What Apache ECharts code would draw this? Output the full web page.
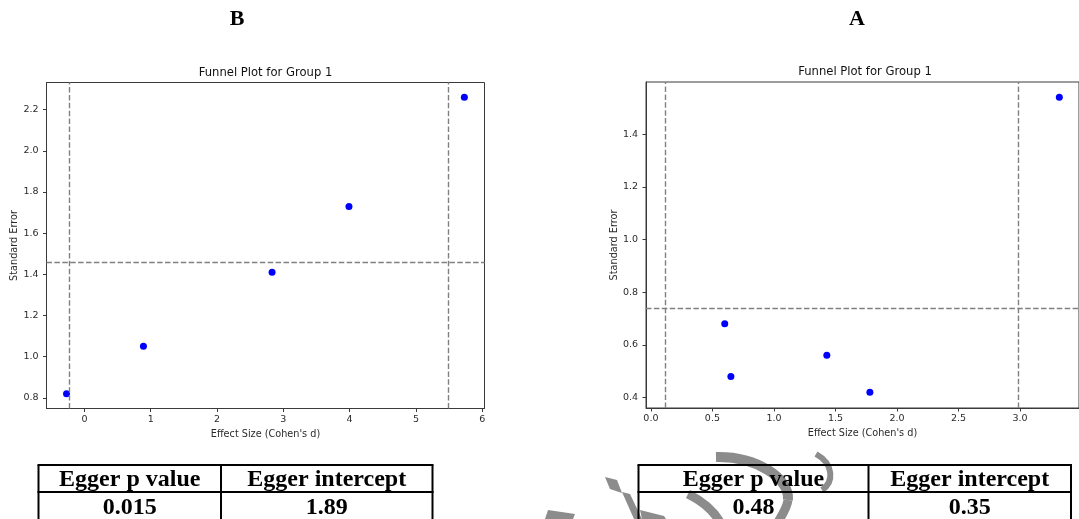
<!DOCTYPE html>
<html><head><meta charset="utf-8">
<script src="https://cdn.jsdelivr.net/npm/echarts@6/dist/echarts.min.js"></script>
<style>html,body{margin:0;padding:0;background:#fff}#c{width:1079px;height:519px}</style>
</head><body><div id="c"></div>
<script>
// ---- data ----
const panelLabels = ['B', 'A'];
const plotTitle = 'Funnel Plot for Group 1';
const xName = "Effect Size (Cohen's d)";
const yName = 'Standard Error';

const effectB = [-0.27, 0.89, 2.83, 3.99, 5.73];
const seB     = [0.82, 1.05, 1.41, 1.73, 2.26];
const refVB   = [-0.23, 5.48];
const refHB   = 1.456;
const xRangeB = [-0.572, 6.034];
const yRangeB = [0.748, 2.332];
const xTicksB = [0, 1, 2, 3, 4, 5, 6];
const yTicksB = [0.8, 1.0, 1.2, 1.4, 1.6, 1.8, 2.0, 2.2];

const effectA = [0.60, 0.65, 1.43, 1.78, 3.32];
const seA     = [0.68, 0.48, 0.56, 0.42, 1.54];
const refVA   = [0.12, 2.99];
const refHA   = 0.739;
const xRangeA = [-0.04, 3.48];
const yRangeA = [0.36, 1.598];
const xTicksA = [0, 0.5, 1, 1.5, 2, 2.5, 3];
const yTicksA = [0.4, 0.6, 0.8, 1.0, 1.2, 1.4];

const tableHeaders = ['Egger p value', 'Egger intercept'];
const eggerB = ['0.015', '1.89'];
const eggerA = ['0.48', '0.35'];

// ---- styling / layout ----
const AX = '#3a3a3a';
const tickFont = { fontFamily: 'DejaVu Sans', fontSize: 9.5, color: '#2a2a2a' };
const nameFont = { fontFamily: 'DejaVu Sans', fontSize: 9.7, color: '#2a2a2a' };
const grids = [
  { left: 46.5, top: 82.5, width: 438, height: 326 },
  { left: 646, top: 82, width: 438, height: 326 }
];

function makeX(gi, range, ticks, dec) {
  return {
    type: 'value', gridIndex: gi, min: range[0], max: range[1],
    name: xName, nameLocation: 'middle', nameGap: 20.5,
    nameTextStyle: Object.assign({}, nameFont),
    axisLine: { show: true, onZero: false, lineStyle: { color: AX, width: 1 } },
    axisTick: { show: true, length: 3.5, customValues: ticks, lineStyle: { color: AX } },
    axisLabel: Object.assign({ customValues: ticks, margin: 6, formatter: v => Number(v).toFixed(dec) }, tickFont),
    splitLine: { show: false }
  };
}
function makeY(gi, range, ticks) {
  return {
    type: 'value', gridIndex: gi, min: range[0], max: range[1],
    name: yName, nameLocation: 'middle', nameGap: 27, nameRotate: 90,
    nameTextStyle: Object.assign({}, nameFont),
    axisLine: { show: true, onZero: false, lineStyle: { color: AX, width: 1 } },
    axisTick: { show: true, length: 3.5, customValues: ticks, lineStyle: { color: AX } },
    axisLabel: Object.assign({ customValues: ticks, margin: 8, formatter: v => Number(v).toFixed(1) }, tickFont),
    splitLine: { show: false }
  };
}
function makeSeries(gi, xs, ys, vlines, hline) {
  return {
    type: 'scatter', xAxisIndex: gi, yAxisIndex: gi,
    data: xs.map((x, i) => [x, ys[i]]),
    symbol: 'circle', symbolSize: 7,
    itemStyle: { color: '#0000ff', opacity: 1 },
    z: 3,
    markLine: {
      silent: true, symbol: 'none', animation: false,
      label: { show: false },
      lineStyle: { color: '#808080', type: [5.5, 2.4], width: 1.4, opacity: 1 },
      data: [{ xAxis: vlines[0] }, { xAxis: vlines[1] }, { yAxis: hline }]
    }
  };
}

function txt(x, y, text, font, color) {
  return { type: 'text', x: x, y: y, silent: true, z: 10,
    style: { text: text, font: font, fill: color || '#000',
      align: 'center', verticalAlign: 'middle', textAlign: 'center', textVerticalAlign: 'middle' } };
}
function ln(x1, y1, x2, y2) {
  return { type: 'line', silent: true, z: 9, shape: { x1, y1, x2, y2 }, style: { stroke: '#000', lineWidth: 2 } };
}
const TF = 'bold 24px "Liberation Serif", "Times New Roman", serif';
function table(left, mid, right, vals) {
  const top = 465, sep = 492, bot = 530;
  const c1 = (left + mid) / 2, c2 = (mid + right) / 2;
  return [
    ln(left - 1, top, right + 1, top), ln(left - 1, sep, right + 1, sep),
    ln(left, top, left, bot), ln(mid, top, mid, bot), ln(right, top, right, bot),
    txt(c1, 480, tableHeaders[0], TF), txt(c2, 480, tableHeaders[1], TF),
    txt(c1, 508, vals[0], TF), txt(c2, 508, vals[1], TF)
  ];
}
// faint watermark logo in the reference, bottom centre-right
const WM = '#8c8c8c';
function band(x1, y1, cx1, cy1, cx2, cy2, x2, y2, w) {
  return { type: 'bezierCurve', silent: true, z: 5,
    shape: { x1, y1, cpx1: cx1, cpy1: cy1, cpx2: cx2, cpy2: cy2, x2, y2 },
    style: { stroke: WM, lineWidth: w, fill: null, lineCap: 'butt' } };
}
function poly(pts) {
  return { type: 'polygon', silent: true, z: 5, shape: { points: pts }, style: { fill: WM } };
}
const watermark = [
  poly([[605, 477], [617, 480], [622, 493], [610, 489]]),
  poly([[548, 510], [575, 514], [573, 519], [545, 519]]),
  poly([[622, 492], [630, 494], [642, 519], [634, 519]]),
  poly([[640, 510], [664, 516], [666, 519], [642, 519]]),
  band(716, 457, 756, 456, 790, 478, 788, 500, 10),
  band(788, 500, 787, 508, 782, 515, 778, 522, 9),
  band(688, 494, 700, 500, 712, 508, 720, 522, 9),
  band(816, 454, 834, 464, 834, 482, 822, 490, 6)
];

const chart = echarts.init(document.getElementById('c'), null, { renderer: 'canvas' });
chart.setOption({
  animation: false,
  backgroundColor: '#fff',
  grid: grids.map(g => Object.assign({ show: true, borderColor: AX, borderWidth: 1, backgroundColor: 'transparent', containLabel: false }, g)),
  xAxis: [makeX(0, xRangeB, xTicksB, 0), makeX(1, xRangeA, xTicksA, 1)],
  yAxis: [makeY(0, yRangeB, yTicksB), makeY(1, yRangeA, yTicksA)],
  series: [makeSeries(0, effectB, seB, refVB, refHB), makeSeries(1, effectA, seA, refVA, refHA)],
  graphic: { elements: [].concat(
    [txt(237, 19, panelLabels[0], 'bold 22px "Liberation Serif", serif'),
     txt(857, 19, panelLabels[1], 'bold 22px "Liberation Serif", serif'),
     txt(265.5, 73, plotTitle, '11.6px "DejaVu Sans"', '#111'),
     txt(865, 72, plotTitle, '11.6px "DejaVu Sans"', '#111')],
    watermark,
    table(38.5, 221, 432.5, eggerB),
    table(638.5, 868.5, 1071, eggerA)
  ) }
});
</script></body></html>
